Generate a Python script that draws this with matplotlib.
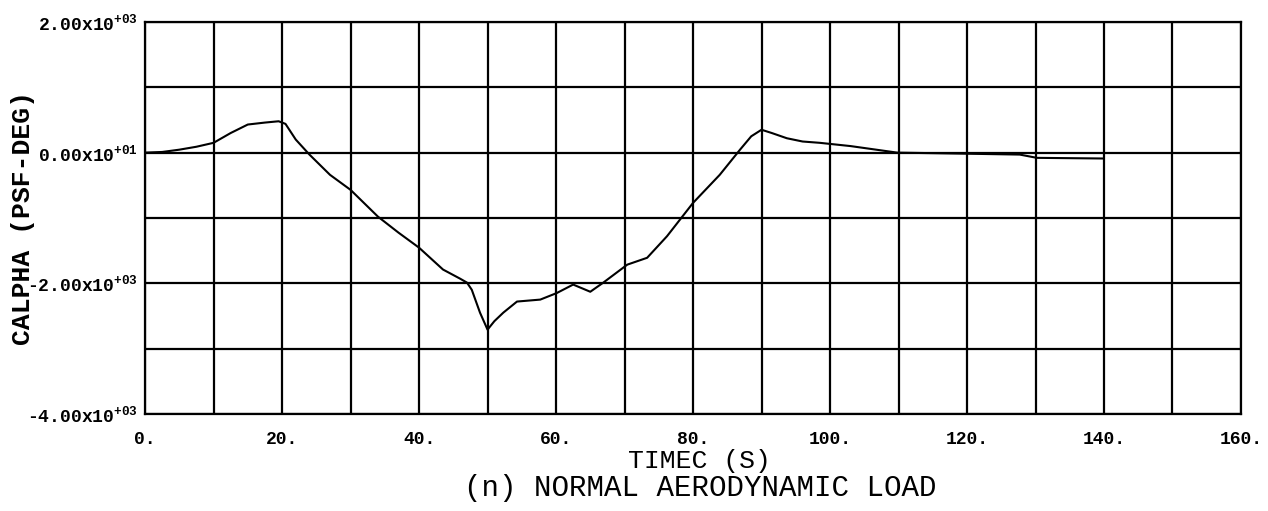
"""Normal aerodynamic load (CALPHA) vs time, plotter-style grid chart."""

import matplotlib

matplotlib.use("Agg")
import matplotlib.pyplot as plt
from matplotlib.ticker import FixedLocator, MultipleLocator

plt.rcParams["mathtext.default"] = "regular"

# values
time_s = [0, 2.5, 5, 7.5, 10, 12.5, 15, 17.5, 19.5, 20.5, 22, 24, 27, 30, 34, 37, 40,
          43.5, 46, 47, 47.7, 48.9, 50, 51, 52.3, 54.3, 57.7, 60.1, 62.5, 65, 66.9,
          70.4, 73.3, 76.2, 80, 83.9, 86.9, 88.5, 90, 91.5, 93.7, 96, 98.5, 103,
          109.8, 119, 127.7, 130.2, 139.9]
calpha = [0, 10, 45, 90, 150, 300, 430, 460, 480, 440, 200, -30, -340, -570, -980,
          -1225, -1455, -1790, -1930, -1990, -2100, -2450, -2710, -2580, -2450, -2280,
          -2250, -2150, -2020, -2130, -1990, -1715, -1610, -1280, -770, -340, 50, 250,
          350, 300, 220, 170, 150, 100, 0, -15, -30, -80, -90]

x_ticks = [0, 20, 40, 60, 80, 100, 120, 140, 160]
x_labels = ["0.", "20.", "40.", "60.", "80.", "100.", "120.", "140.", "160."]
y_ticks = [2000, 0, -2000, -4000]
y_labels = [r"2.00x10$^{+03}$", r"0.00x10$^{+01}$", r"-2.00x10$^{+03}$", r"-4.00x10$^{+03}$"]

MONO = "Liberation Mono"

fig = plt.figure(figsize=(12.68, 5.11), dpi=100)
ax = fig.add_axes([0.1144, 0.190, 0.8643, 0.767])

ax.plot(time_s, calpha, color="black", lw=1.5, zorder=3)

ax.set_xlim(0, 160)
ax.set_ylim(-4000, 2000)
ax.xaxis.set_major_locator(FixedLocator(x_ticks))
ax.set_xticklabels(x_labels)
ax.xaxis.set_minor_locator(MultipleLocator(10))
ax.yaxis.set_major_locator(FixedLocator(y_ticks))
ax.set_yticklabels(y_labels)
ax.yaxis.set_minor_locator(MultipleLocator(1000))

ax.grid(which="both", color="black", lw=1.6)
ax.tick_params(which="both", length=0)
ax.tick_params(axis="x", pad=12)
ax.tick_params(axis="y", pad=5)
for lab in ax.get_xticklabels():
    lab.set_fontfamily(MONO)
    lab.set_fontweight("bold")
    lab.set_fontsize(13)
for lab in ax.get_yticklabels():
    lab.set_fontfamily(MONO)
    lab.set_fontweight("bold")
    lab.set_fontsize(13)
for sp in ax.spines.values():
    sp.set_linewidth(1.6)

fig.text(0.552, 0.098, "TIMEC (S)", ha="center", va="center",
         fontfamily=MONO, fontsize=19)
fig.text(0.552, 0.045, "(n) NORMAL AERODYNAMIC LOAD", ha="center", va="center",
         fontfamily=MONO, fontsize=21)
fig.text(0.018, 0.573, "CALPHA (PSF-DEG)", rotation=90, ha="center", va="center",
         fontfamily=MONO, fontweight="bold", fontsize=19)

fig.savefig("out.png", dpi=100)
